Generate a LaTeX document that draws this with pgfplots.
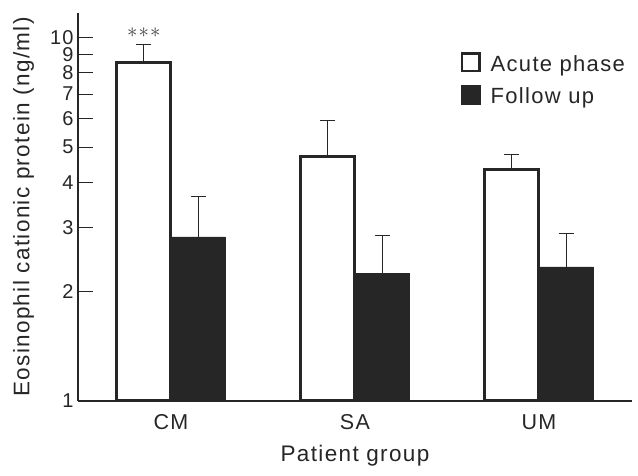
\documentclass[border=0pt]{standalone}
\usepackage{pgfplots}
\pgfplotsset{compat=1.18}
\usepackage{fontspec}
\setmainfont[LetterSpace=6]{Liberation Sans}
\definecolor{ink}{HTML}{262626}
\begin{document}
\begin{tikzpicture}
\begin{axis}[
  scale only axis,
  width=554pt, height=388pt,
  ymode=log,
  xmin=-0.505, xmax=2.506,
  ymin=1, ymax=11.7,
  axis x line=bottom, axis y line=left,
  axis line style={-, line width=1.6pt, ink},
  xtick={0,1,2}, xticklabels={CM,SA,UM},
  major x tick style={draw=none},
  ytick={1,2,3,4,5,6,7,8,9,10},
  yticklabels={1,2,3,4,5,6,7,8,9,10},
  minor ytick={},
  tick align=inside,
  major tick length=15pt,
  major y tick style={line width=1pt, ink},
  /pgf/number format/assume math mode=true,
  tick label style={font=\fontsize{20}{22}\selectfont, text=ink},
  xticklabel style={yshift=-10pt, font=\fontsize{21.5}{24}\selectfont},
  yticklabel style={xshift=-1pt},
  xlabel={Patient group},
  ylabel={Eosinophil cationic protein (ng/ml)},
  label style={font=\fontsize{22.5}{26}\selectfont, text=ink},
  xlabel style={yshift=-9pt},
  ylabel style={yshift=9pt},
  legend style={draw=none, fill=none, at={(0.685,0.905)}, anchor=north west,
    font=\fontsize{22}{26}\selectfont, text=ink, row sep=10pt,
    /tikz/every odd column/.append style={column sep=8pt}},
  legend cell align=left,
  legend image code/.code={\draw[#1,line width=2.5pt] (1.25pt,-7pt) rectangle (18.75pt,10.5pt);},
  clip=false,
]
\coordinate (O) at (rel axis cs:0,0);
\addplot[ybar, bar width=0.295, bar shift=0pt, fill=white, draw=ink, line width=3pt,
  error bars/.cd, y dir=plus, y explicit,
  error bar style={line width=1pt, ink},
  error mark options={rotate=90, mark size=7.5pt, line width=1pt, ink}]
  coordinates {(-0.1475,8.53) +- (0,1.04) (0.8525,4.70) +- (0,1.21) (1.8525,4.33) +- (0,0.43)};
\addlegendentry{Acute phase}
\addplot[ybar, bar width=0.295, bar shift=0pt, fill=ink, draw=ink, line width=0.5pt,
  error bars/.cd, y dir=plus, y explicit,
  error bar style={line width=1pt, ink},
  error mark options={rotate=90, mark size=7.5pt, line width=1pt, ink}]
  coordinates {(0.1475,2.83) +- (0,0.82) (1.1475,2.25) +- (0,0.60) (2.1475,2.34) +- (0,0.56)};
\addlegendentry{Follow up}
\node[text=gray!50!black, font=\fontsize{20}{22}\selectfont] at (axis cs:-0.1475,10.3) {${\ast}\mkern1mu{\ast}\mkern1mu{\ast}$};
\end{axis}
\pgfresetboundingbox
\useasboundingbox (O) ++(-78pt,-75pt) rectangle ++(638pt,476pt);
\end{tikzpicture}
\end{document}
